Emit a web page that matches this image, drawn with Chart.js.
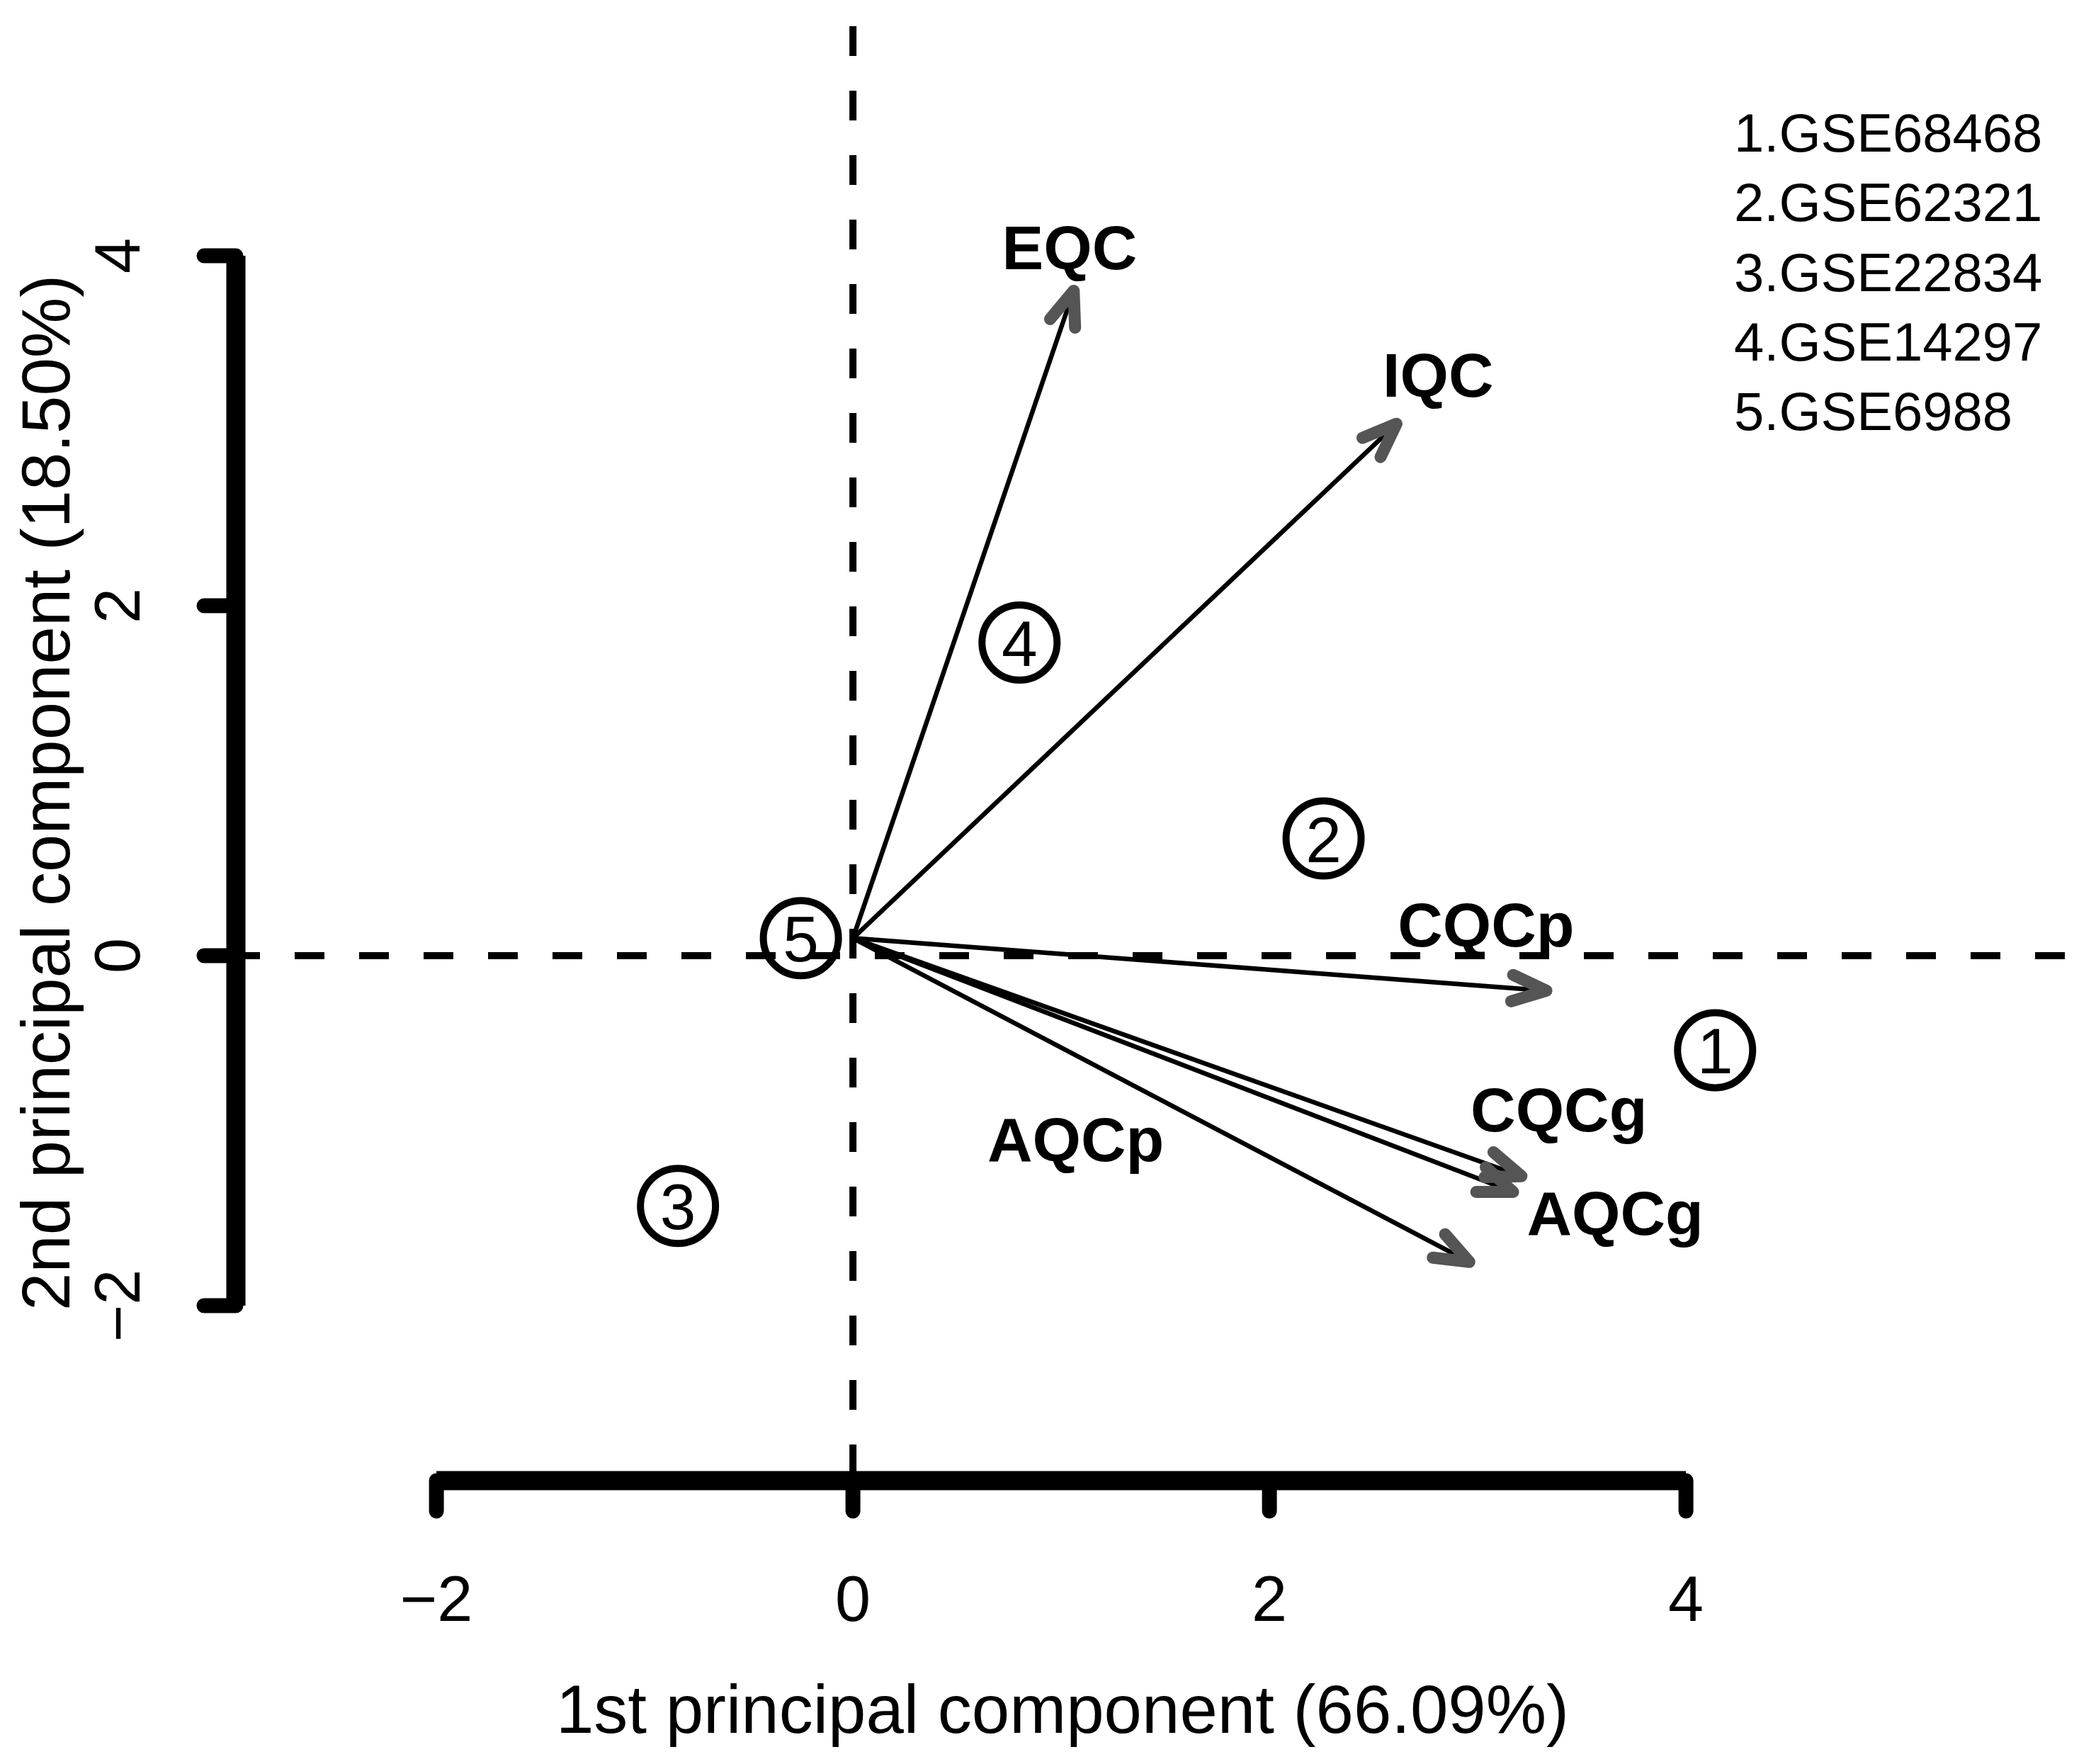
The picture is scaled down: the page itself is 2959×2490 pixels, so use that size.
<!DOCTYPE html>
<html>
<head>
<meta charset="utf-8">
<script src="https://cdn.jsdelivr.net/npm/chart.js@4.4.1/dist/chart.umd.min.js"></script>
<style>
    html, body { margin: 0; padding: 0; background: #ffffff; }
    #wrap { width: 2959px; height: 2490px; }
</style>
</head>
<body>
<div id="wrap"><canvas id="biplot"></canvas></div>
<script>
// sample scores (circled numbers)
const sampleIds = ["1", "2", "3", "4", "5"];
const sampleX = [4.14, 2.26, -0.84, 0.8, -0.25];
const sampleY = [-0.54, 0.67, -1.43, 1.79, 0.1];

// variable loadings (arrows) and where their names sit
const variableNames = ["EQC", "IQC", "CQCp", "CQCg", "AQCg", "AQCp"];
const arrowX = [1.06, 2.61, 3.33, 3.21, 3.17, 2.96];
const arrowY = [3.8, 3.04, -0.2, -1.26, -1.35, -1.75];
const labelX = [1.04, 2.81, 3.04, 3.39, 3.66, 1.07];
const labelY = [4.05, 3.32, 0.18, -0.88, -1.47, -1.05];
const arrowOrigin = { x: 0, y: 0.1 };

const legendLines = ["1.GSE68468", "2.GSE62321", "3.GSE22834", "4.GSE14297", "5.GSE6988"];

const xTicks = [-2, 0, 2, 4];
const yTicks = [-2, 0, 2, 4];
const xRange = [-2.963, 5.969];
const yRange = [-3.0, 5.462];
const xTitle = "1st principal component (66.09%)";
const yTitle = "2nd principal component (18.50%)";

const FONT = "'Liberation Sans', Arial, Helvetica, sans-serif";

function tickText(v) {
    return v < 0 ? "\u2212" + Math.abs(v) : String(v);
}

// Build one line dataset per arrow
const arrowSets = variableNames.map((name, i) => ({
    type: "line",
    label: name,
    data: [arrowOrigin, { x: arrowX[i], y: arrowY[i] }],
    borderColor: "#000000",
    borderWidth: 6.5,
    pointRadius: 0,
    fill: false,
    order: 2,
}));

// R style axes, arrow heads and text, all placed through the chart scales
const biplotDecor = {
    id: "biplotDecor",
    afterDatasetsDraw(chart) {
        const ctx = chart.ctx;
        const xs = chart.scales.x;
        const ys = chart.scales.y;

        // arrow heads
        ctx.save();
        ctx.strokeStyle = "#555555";
        ctx.lineWidth = 17;
        ctx.lineCap = "round";
        ctx.lineJoin = "round";
        const ox = xs.getPixelForValue(arrowOrigin.x);
        const oy = ys.getPixelForValue(arrowOrigin.y);
        for (let i = 0; i < arrowX.length; i++) {
            const tx = xs.getPixelForValue(arrowX[i]);
            const ty = ys.getPixelForValue(arrowY[i]);
            const a = Math.atan2(ty - oy, tx - ox);
            const len = 52;
            const th = (21 * Math.PI) / 180;
            ctx.beginPath();
            ctx.moveTo(tx - len * Math.cos(a - th), ty - len * Math.sin(a - th));
            ctx.lineTo(tx, ty);
            ctx.lineTo(tx - len * Math.cos(a + th), ty - len * Math.sin(a + th));
            ctx.stroke();
        }
        ctx.restore();

        // variable names
        ctx.save();
        ctx.fillStyle = "#000000";
        ctx.font = "bold 88px " + FONT;
        ctx.textAlign = "center";
        ctx.textBaseline = "alphabetic";
        variableNames.forEach((name, i) => {
            ctx.fillText(name, xs.getPixelForValue(labelX[i]), ys.getPixelForValue(labelY[i]) + 31);
        });

        // numbers inside the sample circles
        ctx.font = "91px " + FONT;
        sampleIds.forEach((id, i) => {
            ctx.fillText(id, xs.getPixelForValue(sampleX[i]), ys.getPixelForValue(sampleY[i]) + 33);
        });
        ctx.restore();
    },
    afterDraw(chart) {
        const ctx = chart.ctx;
        const xs = chart.scales.x;
        const ys = chart.scales.y;
        const area = chart.chartArea;
        ctx.save();
        ctx.strokeStyle = "#000000";
        ctx.fillStyle = "#000000";

        // x axis
        const axY = area.bottom;
        ctx.lineWidth = 27;
        ctx.lineCap = "butt";
        ctx.beginPath();
        ctx.moveTo(xs.getPixelForValue(xTicks[0]), axY);
        ctx.lineTo(xs.getPixelForValue(xTicks[xTicks.length - 1]), axY);
        ctx.stroke();
        ctx.lineWidth = 21;
        ctx.lineCap = "round";
        xTicks.forEach((v) => {
            const px = xs.getPixelForValue(v);
            ctx.beginPath();
            ctx.moveTo(px, axY);
            ctx.lineTo(px, axY + 43);
            ctx.stroke();
        });
        ctx.font = "90px " + FONT;
        ctx.textAlign = "center";
        ctx.textBaseline = "alphabetic";
        xTicks.forEach((v) => {
            ctx.fillText(tickText(v), xs.getPixelForValue(v), axY + 198);
        });
        ctx.font = "96px " + FONT;
        ctx.fillText(xTitle, 1500, axY + 356);

        // y axis
        const axX = area.left;
        ctx.lineWidth = 27;
        ctx.lineCap = "butt";
        ctx.beginPath();
        ctx.moveTo(axX, ys.getPixelForValue(yTicks[0]));
        ctx.lineTo(axX, ys.getPixelForValue(yTicks[yTicks.length - 1]));
        ctx.stroke();
        ctx.lineWidth = 21;
        ctx.lineCap = "round";
        yTicks.forEach((v) => {
            const py = ys.getPixelForValue(v);
            ctx.beginPath();
            ctx.moveTo(axX, py);
            ctx.lineTo(axX - 45, py);
            ctx.stroke();
        });
        ctx.font = "90px " + FONT;
        yTicks.forEach((v) => {
            ctx.save();
            ctx.translate(axX - 136, ys.getPixelForValue(v));
            ctx.rotate(-Math.PI / 2);
            ctx.fillText(tickText(v), 0, 0);
            ctx.restore();
        });
        ctx.font = "96px " + FONT;
        ctx.save();
        ctx.translate(98, 1119);
        ctx.rotate(-Math.PI / 2);
        ctx.fillText(yTitle, 0, 0);
        ctx.restore();

        // dataset key, top right
        ctx.font = "76px " + FONT;
        ctx.textAlign = "left";
        legendLines.forEach((t, i) => {
            ctx.fillText(t, 2448, 214 + i * 98.3);
        });
        ctx.restore();
    },
};

const ctx = document.getElementById("biplot").getContext("2d");
new Chart(ctx, {
    type: "scatter",
    data: {
        datasets: [
            {
                type: "line",
                label: "h0",
                data: [{ x: xRange[0], y: 0 }, { x: xRange[1], y: 0 }],
                borderColor: "#000000",
                borderWidth: 10,
                borderDash: [42, 49],
                borderDashOffset: 8,
                pointRadius: 0,
                order: 3,
            },
            {
                type: "line",
                label: "v0",
                data: [{ x: 0, y: yRange[1] }, { x: 0, y: yRange[0] }],
                borderColor: "#000000",
                borderWidth: 10,
                borderDash: [42, 49],
                borderDashOffset: 54,
                pointRadius: 0,
                order: 3,
            },
            ...arrowSets,
            {
                type: "scatter",
                label: "samples",
                data: sampleX.map((x, i) => ({ x: x, y: sampleY[i] })),
                pointStyle: "circle",
                pointRadius: 53,
                pointBorderWidth: 10,
                borderColor: "#000000",
                backgroundColor: "rgba(0,0,0,0)",
                order: 1,
            },
        ],
    },
    options: {
        responsive: true,
        maintainAspectRatio: false,
        devicePixelRatio: 1,
        animation: false,
        layout: {
            autoPadding: false,
            padding: { left: 333, right: 0, top: 0, bottom: 400 },
        },
        plugins: {
            legend: { display: false },
            tooltip: { enabled: false },
        },
        scales: {
            x: { type: "linear", min: xRange[0], max: xRange[1], display: false },
            y: { type: "linear", min: yRange[0], max: yRange[1], display: false },
        },
    },
    plugins: [biplotDecor],
});
</script>
</body>
</html>
